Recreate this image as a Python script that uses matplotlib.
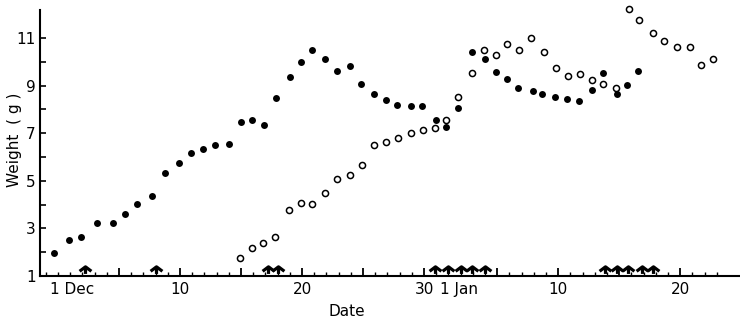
import matplotlib
matplotlib.use("Agg")
import matplotlib.pyplot as plt
import matplotlib.transforms as mtransforms
from matplotlib.path import Path
import numpy as np

# day number counted from 1 Dec (= 1); 1 Jan = 32
filled_day = [-0.3, 0.9, 1.9, 3.2, 4.5, 5.5, 6.5, 7.7, 8.8, 9.9, 10.9, 11.9,
              12.9, 14.0, 15.0, 15.9, 16.9, 17.9, 19.0, 19.9, 20.8, 21.9, 22.9,
              23.9, 24.8, 25.9, 26.9, 27.8, 28.9, 29.8, 31.0, 31.8, 32.8, 33.9,
              35.0, 35.9, 36.8, 37.7, 38.9, 39.7, 40.7, 41.7, 42.7, 43.8, 44.7,
              45.8, 46.6, 47.5]
filled_wt = [1.95, 2.51, 2.63, 3.24, 3.24, 3.59, 4.01, 4.37, 5.31, 5.74, 6.18,
             6.35, 6.52, 6.55, 7.46, 7.55, 7.34, 8.49, 9.37, 10.0, 10.48, 10.12,
             9.6, 9.82, 9.07, 8.63, 8.38, 8.18, 8.16, 8.13, 7.57, 7.27, 8.05,
             10.4, 10.1, 9.58, 9.28, 8.89, 8.79, 8.66, 8.53, 8.42, 8.37, 8.8,
             9.54, 8.63, 9.03, 9.61]

open_day = [14.9, 15.9, 16.8, 17.8, 18.9, 19.9, 20.8, 21.9, 22.9, 23.9, 24.9,
            25.9, 26.9, 27.9, 28.9, 29.9, 30.9, 31.8, 32.8, 33.9, 34.9, 35.9,
            36.8, 37.8, 38.8, 39.8, 40.8, 41.8, 42.8, 43.8, 44.7, 45.7, 46.8,
            47.6, 48.8, 49.7, 50.7, 51.8, 52.7, 53.7]
open_wt = [1.77, 2.18, 2.37, 2.63, 3.79, 4.05, 4.04, 4.49, 5.06, 5.24, 5.65,
           6.49, 6.62, 6.81, 7.01, 7.15, 7.23, 7.55, 8.53, 9.53, 10.5, 10.27,
           10.74, 10.5, 11.0, 10.42, 9.75, 9.42, 9.49, 9.24, 9.05, 8.91, 12.22,
           11.77, 11.22, 10.89, 10.61, 10.61, 9.85, 10.1]

# event marks along the bottom axis
event_day = [2.2, 8.0, 17.2, 18.0, 30.9, 32.0, 33.0, 33.9, 35.0,
             44.8, 45.8, 46.7, 47.9, 48.8]

date_pos = [1, 10, 20, 30, 32, 41, 51]
date_lbl = ["1 Dec", "10", "20", "30", "1 Jan", "10", "20"]
date_shift = [2, 0, 0, 0, 11, 0, 0]  # px, the labels are not all centred

y_major = [1, 3, 5, 7, 9, 11]

plt.rcParams["font.family"] = "DejaVu Sans"

fig = plt.figure(figsize=(7.4, 3.22), dpi=100)
ax = fig.add_axes([40 / 740, 46 / 322, 700 / 740, 266 / 322])

ax.plot(filled_day, filled_wt, "o", color="black", markersize=5.0,
        markeredgewidth=0, clip_on=False)
ax.plot(open_day, open_wt, "o", markerfacecolor="white", markeredgecolor="black",
        markersize=4.4, markeredgewidth=1.1, clip_on=False)

# thick caret with a short stem
caret = Path([(-1, -0.3), (0, 0.45), (1, -0.3), (0, 0.45), (0, -0.75)],
             [Path.MOVETO, Path.LINETO, Path.LINETO, Path.MOVETO, Path.LINETO])
trans = mtransforms.blended_transform_factory(ax.transData, ax.transAxes)
ax.plot(event_day, [0.027] * len(event_day), linestyle="none", marker=caret,
        markersize=8.5, markerfacecolor="none", markeredgecolor="black",
        markeredgewidth=2.3, transform=trans, clip_on=False)

ax.set_xlim(-1.48, 55.9)
ax.set_ylim(1, 12.18)

for side in ["top", "right"]:
    ax.spines[side].set_visible(False)
ax.spines["left"].set_linewidth(1.5)
ax.spines["bottom"].set_linewidth(1.5)

ax.set_xticks([5, 10, 15, 20, 25, 30, 36, 41, 46, 51])
ax.set_xticks(np.arange(-1, 55), minor=True)
ax.tick_params(axis="x", which="major", direction="in", length=6, width=1.3,
               labelbottom=False)
ax.tick_params(axis="x", which="minor", direction="in", length=3, width=1.0)

ax.set_yticks(y_major)
ax.set_yticks(np.arange(2, 12, 2), minor=True)
ax.tick_params(axis="y", which="both", direction="in", length=4, width=1.2,
               labelsize=11, pad=3)

for pos, lbl, dx in zip(date_pos, date_lbl, date_shift):
    t = mtransforms.offset_copy(trans, fig=fig, x=dx, y=-6, units="dots")
    ax.text(pos, 0, lbl, transform=t, ha="center", va="top", fontsize=11)

fig.text(347 / 740, 1 - 312 / 322, "Date", ha="center", va="center", fontsize=11)
fig.text(15 / 740, 1 - 140 / 322, "Weight  ( g )", ha="center", va="center",
         rotation=90, fontsize=11)

fig.savefig("out.png", dpi=100)
